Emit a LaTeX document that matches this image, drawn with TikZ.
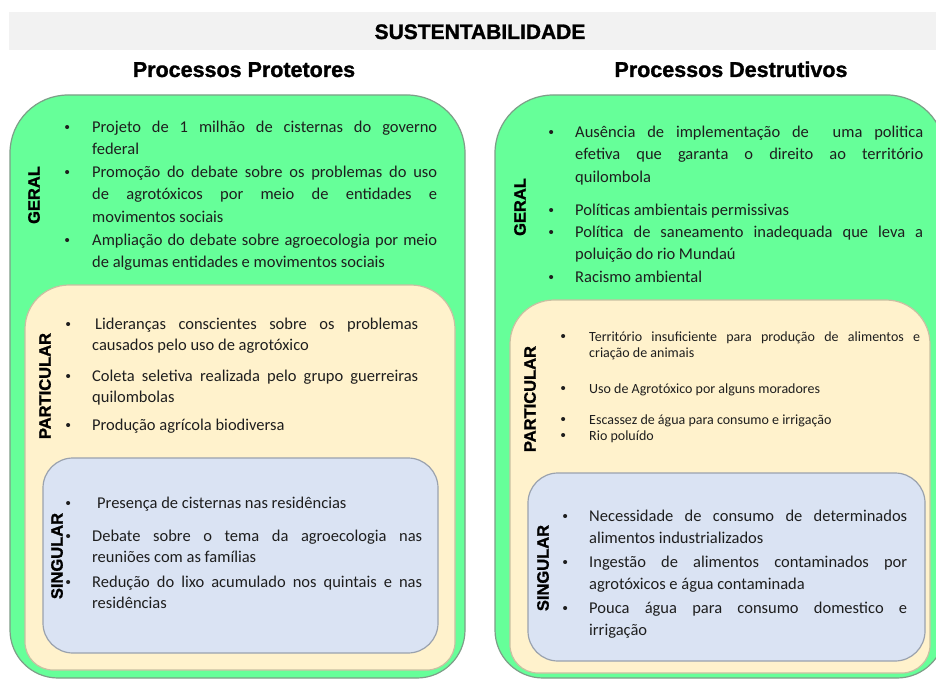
\documentclass[tikz,border=0pt]{standalone}
\usepackage{fontspec}
\setmainfont{Carlito}
\newfontfamily\arialfont{Liberation Sans}[BoldFont={Liberation Sans Bold}]
\newfontfamily\heavyfont{Liberation Sans Bold}[FakeBold=1.3]
\definecolor{geralc}{HTML}{66FF99}
\definecolor{geralb}{HTML}{7E9E88}
\definecolor{partc}{HTML}{FFF2CC}
\definecolor{partb}{HTML}{C9C0A2}
\definecolor{singc}{HTML}{DAE3F3}
\definecolor{singb}{HTML}{9AA2AE}
\definecolor{bandc}{HTML}{F2F2F2}
\definecolor{txtc}{HTML}{1E1E1E}
\newcommand\linej[1]{\hbox to \hsize{#1}}
\newcommand\linel[1]{\hbox to \hsize{#1\hfil}}
\newcommand\bul[1]{\llap{\makebox[0pt]{\arialfont\fontsize{15}{15}\selectfont\textbullet}\hskip #1pt}}
\newcommand\capsule[7]{%
  \draw[#1] (#2,#3+#6) arc[start angle=180,end angle=270,radius=#6]
    -- (#4-#6,#3) arc[start angle=270,end angle=360,radius=#6]
    -- (#4,#5-#7) arc[start angle=0,end angle=90,radius=#7]
    -- (#2+#7,#5) arc[start angle=90,end angle=180,radius=#7] -- cycle;}
\tikzset{
  geralbox/.style={fill=geralc, draw=geralb, line width=1.2pt},
  partbox/.style={fill=partc, draw=partb, line width=1.2pt},
  singbox/.style={fill=singc, draw=singb, line width=1.2pt},
  item/.style={anchor=base west, inner sep=0pt, text=txtc, font=\fontsize{16.5}{22.5}\selectfont},
  smallitem/.style={item, font=\fontsize{14}{16.5}\selectfont},
  vlabel/.style={rotate=90, inner sep=0pt, font=\heavyfont\fontsize{16.5}{17}\selectfont},
  heading/.style={anchor=base, inner sep=0pt, font=\heavyfont\fontsize{21.5}{22}\selectfont},
}
\begin{document}
\begin{tikzpicture}[x=1pt,y=-1pt]
\useasboundingbox (0,0) rectangle (936,682);
\clip (0,0) rectangle (936,682);
\fill[white] (0,0) rectangle (936,682);
% title band
\fill[bandc] (9,12) rectangle (936,50);
\node[heading, font=\heavyfont\fontsize{21}{22}\selectfont] (title) at (480,39) {SUSTENTABILIDADE};
\node[heading] (hprot) at (244,77) {Processos Protetores};
\node[heading] (hdest) at (731,77) {Processos Destrutivos};

% ---------------- left column ----------------
\capsule{geralbox}{10}{95}{465}{678}{58}{48}
\capsule{partbox}{25}{285}{455}{670}{44}{28}
\capsule{singbox}{43}{458}{438}{653}{30}{30}

\node[vlabel] (lgeral) at (34,195) {GERAL};
\node[vlabel] (lpart) at (45,386) {PARTICULAR};
\node[vlabel] (lsing) at (57,556) {SINGULAR};

\node[item] (lg1) at (92,132) {\vtop{\hsize=345pt\baselineskip=22.5pt
  \linej{\bul{25}Projeto de 1 milhão de cisternas do governo}
  \linel{federal}}};
\node[item] (lg2) at (92,177) {\vtop{\hsize=345pt\baselineskip=22.5pt
  \linej{\bul{25}Promoção do debate sobre os problemas do uso}
  \linej{de agrotóxicos por meio de entidades e}
  \linel{movimentos sociais}}};
\node[item] (lg3) at (92,245) {\vtop{\hsize=345pt\baselineskip=22.5pt
  \linej{\bul{25}Ampliação do debate sobre agroecologia por meio}
  \linel{de algumas entidades e movimentos sociais}}};

\node[item] (lp1) at (92,329) {\vtop{\hsize=326pt\baselineskip=21.5pt
  \linej{\bul{24}\hskip3pt Lideranças conscientes sobre os problemas}
  \linel{causados pelo uso de agrotóxico}}};
\node[item] (lp2) at (92,381) {\vtop{\hsize=326pt\baselineskip=21pt
  \linej{\bul{24}Coleta seletiva realizada pelo grupo guerreiras}
  \linel{quilombolas}}};
\node[item] (lp3) at (92,430) {\vtop{\hsize=326pt\baselineskip=21.5pt
  \linel{\bul{24}Produção agrícola biodiversa}}};

\node[item] (ls1) at (92,508) {\vtop{\hsize=330pt\baselineskip=21.5pt
  \linel{\bul{24}\hskip5pt Presença de cisternas nas residências}}};
\node[item] (ls2) at (92,541) {\vtop{\hsize=330pt\baselineskip=21.5pt
  \linej{\bul{24}Debate sobre o tema da agroecologia nas}
  \linel{reuniões com as famílias}}};
\node[item] (ls3) at (92,587) {\vtop{\hsize=330pt\baselineskip=21.5pt
  \linej{\bul{24}Redução do lixo acumulado nos quintais e nas}
  \linel{residências}}};

% ---------------- right column ----------------
\capsule{geralbox}{495}{95}{945}{678}{58}{48}
\capsule{partbox}{510}{300}{930}{673}{44}{28}
\capsule{singbox}{528}{473}{925}{661}{30}{30}

\node[vlabel] (rgeral) at (520,207) {GERAL};
\node[vlabel] (rpart) at (530,399) {PARTICULAR};
\node[vlabel] (rsing) at (543,568) {SINGULAR};

\node[item] (rg1) at (575,137) {\vtop{\hsize=348pt\baselineskip=22.5pt
  \linej{\bul{24}Ausência de implementação de \ uma politica}
  \linej{efetiva que garanta o direito ao território}
  \linel{quilombola}}};
\node[item] (rg2) at (575,215) {\vtop{\hsize=348pt\baselineskip=22.5pt
  \linel{\bul{24}Políticas ambientais permissivas}}};
\node[item] (rg3) at (575,237) {\vtop{\hsize=348pt\baselineskip=22.5pt
  \linej{\bul{24}Política de saneamento inadequada que leva a}
  \linel{poluição do rio Mundaú}}};
\node[item] (rg4) at (575,282) {\vtop{\hsize=348pt\baselineskip=22.5pt
  \linel{\bul{24}Racismo ambiental}}};

\node[smallitem] (rp1) at (589,341) {\vtop{\hsize=331pt\baselineskip=16.5pt
  \linej{\bul{26}Território insuficiente para produção de alimentos e}
  \linel{criação de animais}}};
\node[smallitem] (rp2) at (589,393) {\vtop{\hsize=331pt\baselineskip=16.5pt
  \linel{\bul{26}Uso de Agrotóxico por alguns moradores}}};
\node[smallitem] (rp3) at (589,424) {\vtop{\hsize=331pt\baselineskip=16.5pt
  \linel{\bul{26}Escassez de água para consumo e irrigação}}};
\node[smallitem] (rp4) at (589,440) {\vtop{\hsize=331pt\baselineskip=16.5pt
  \linel{\bul{26}Rio poluído}}};

\node[item] (rs1) at (589,521) {\vtop{\hsize=318pt\baselineskip=22.7pt
  \linej{\bul{24}Necessidade de consumo de determinados}
  \linel{alimentos industrializados}}};
\node[item] (rs2) at (589,567) {\vtop{\hsize=318pt\baselineskip=22.7pt
  \linej{\bul{24}Ingestão de alimentos contaminados por}
  \linel{agrotóxicos e água contaminada}}};
\node[item] (rs3) at (589,613) {\vtop{\hsize=318pt\baselineskip=22.7pt
  \linej{\bul{24}Pouca água para consumo domestico e}
  \linel{irrigação}}};
\end{tikzpicture}
\end{document}
